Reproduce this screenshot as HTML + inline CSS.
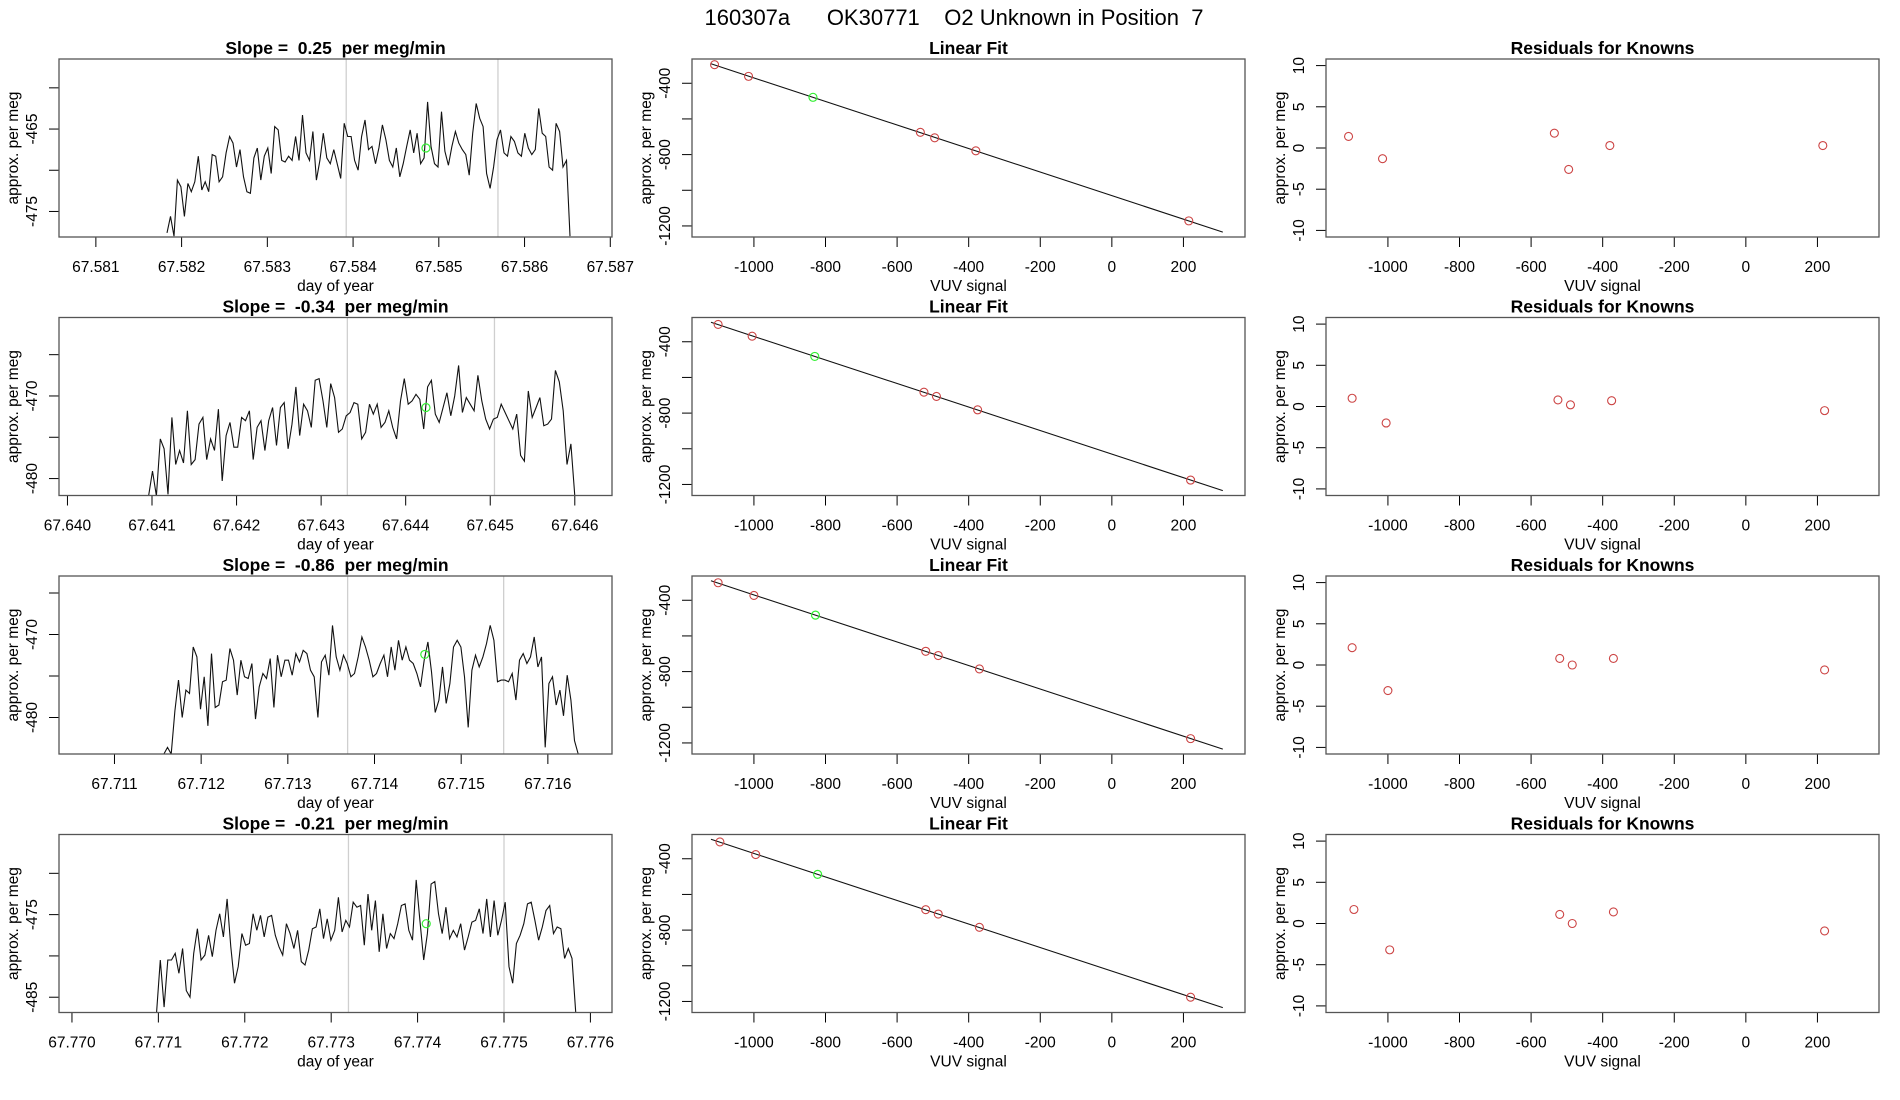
<!DOCTYPE html>
<html><head><meta charset="utf-8"><style>
html,body{margin:0;padding:0;background:#fff;}
svg{display:block;font-family:"Liberation Sans",sans-serif;}
svg text{white-space:pre;}
</style></head><body>
<svg id="chart" width="1900" height="1100" viewBox="0 0 1900 1100" xmlns="http://www.w3.org/2000/svg" xml:space="preserve">
<text x="954" y="25" font-size="22" text-anchor="middle">160307a      OK30771    O2 Unknown in Position  7</text>
</svg>
<script>
// ---- time series data (per row) ----
const slopeLabels = ["0.25", "-0.34", "-0.86", "-0.21"];
const seriesStart = [67.58183, 67.64096, 67.71157, 67.77098];
const seriesEnd = [67.58653, 67.64600, 67.71635, 67.77583];
const series1 = [-477.6,-475.6,-478.0,-471.2,-472.0,-475.6,-471.6,-472.6,-471.4,-468.3,-472.4,-471.4,-472.6,-468.1,-468.3,-471.4,-470.8,-467.9,-465.9,-466.7,-469.6,-467.5,-470.8,-472.6,-472.8,-468.5,-467.3,-471.2,-468.3,-467.3,-470.4,-464.7,-465.1,-468.8,-469.0,-468.3,-468.8,-465.9,-468.8,-463.3,-467.9,-468.8,-465.3,-471.2,-468.8,-465.5,-468.5,-469.2,-467.5,-469.2,-471.0,-464.3,-465.9,-465.9,-468.8,-470.0,-465.9,-463.9,-467.5,-467.1,-469.2,-467.3,-464.5,-466.3,-468.8,-469.6,-467.3,-470.8,-469.2,-467.1,-465.1,-467.9,-465.5,-469.2,-468.5,-461.7,-467.1,-469.2,-469.6,-462.9,-467.7,-469.4,-467.1,-465.3,-466.7,-467.5,-468.1,-470.6,-465.5,-461.9,-463.7,-464.7,-470.4,-472.2,-469.6,-466.3,-465.1,-467.9,-468.3,-465.9,-466.5,-467.9,-468.3,-465.5,-467.3,-468.1,-467.5,-462.5,-465.5,-465.9,-469.6,-470.0,-464.3,-465.3,-469.6,-468.8,-478.0];
const series2 = [-482.1,-479.1,-482.1,-475.2,-476.4,-481.9,-472.6,-478.3,-476.6,-478.1,-471.8,-478.3,-477.7,-473.4,-472.6,-477.7,-475.2,-476.6,-471.6,-480.3,-474.8,-473.2,-476.2,-476.2,-472.6,-473.0,-471.8,-477.7,-473.8,-473.0,-476.6,-473.0,-471.4,-476.0,-471.4,-470.8,-476.4,-473.4,-468.9,-474.8,-471.0,-471.8,-473.8,-468.1,-467.9,-470.6,-473.8,-468.5,-470.2,-474.4,-474.0,-472.4,-472.0,-470.8,-471.0,-475.2,-474.4,-471.0,-472.2,-471.0,-473.8,-473.2,-471.8,-473.8,-475.2,-470.6,-467.9,-471.0,-470.6,-469.8,-470.4,-474.0,-468.9,-468.1,-472.2,-473.2,-471.4,-469.6,-472.4,-470.0,-466.3,-472.0,-470.2,-471.0,-471.8,-467.5,-470.6,-472.8,-474.0,-472.8,-472.6,-471.0,-472.0,-473.0,-474.0,-472.2,-477.2,-477.9,-469.4,-472.6,-471.4,-470.2,-473.6,-473.4,-472.8,-466.9,-468.3,-471.8,-478.3,-475.8,-482.1];
const series3 = [-484.4,-483.6,-484.4,-479.2,-475.5,-480.0,-476.7,-477.1,-471.5,-472.7,-479.0,-475.1,-481.0,-472.3,-478.8,-478.5,-475.7,-475.5,-471.7,-473.1,-477.3,-473.1,-475.1,-475.3,-473.5,-480.2,-476.3,-474.7,-475.3,-472.9,-478.8,-472.5,-475.1,-473.1,-473.1,-474.9,-472.3,-473.3,-471.9,-472.3,-474.3,-475.1,-480.0,-473.3,-472.5,-474.9,-468.9,-472.7,-474.3,-472.5,-473.5,-475.1,-474.7,-472.7,-470.3,-471.5,-473.1,-475.1,-474.7,-473.5,-472.5,-475.1,-471.5,-474.3,-470.7,-473.1,-471.5,-473.1,-473.5,-474.7,-476.3,-473.1,-470.9,-474.5,-479.4,-477.9,-473.9,-478.3,-475.9,-471.5,-470.7,-471.5,-475.1,-481.2,-474.3,-472.5,-473.9,-472.7,-471.1,-468.9,-470.7,-475.7,-475.5,-475.5,-475.7,-474.7,-477.9,-473.1,-472.3,-473.5,-472.7,-470.3,-473.9,-472.7,-483.6,-475.9,-475.1,-478.5,-476.7,-479.8,-474.9,-477.9,-482.8,-484.4];
const series4 = [-486.8,-480.5,-486.2,-480.5,-480.5,-479.7,-482.1,-479.1,-484.2,-485.0,-479.7,-476.7,-480.5,-479.9,-477.5,-480.1,-476.9,-474.9,-477.7,-473.1,-478.9,-483.3,-481.3,-477.3,-478.7,-478.5,-474.9,-476.9,-475.1,-477.7,-475.3,-475.1,-477.5,-478.9,-479.9,-476.1,-477.3,-479.1,-476.9,-480.7,-481.1,-479.3,-476.7,-476.5,-474.3,-477.9,-475.5,-478.1,-476.9,-472.9,-477.1,-475.7,-476.5,-473.5,-474.1,-473.9,-478.7,-472.5,-476.9,-473.3,-479.5,-474.9,-479.1,-477.3,-477.9,-476.1,-473.9,-473.7,-476.9,-478.1,-470.8,-475.7,-480.5,-477.3,-471.3,-471.0,-474.9,-477.3,-474.1,-477.9,-476.9,-477.7,-476.1,-479.3,-477.7,-475.9,-475.7,-474.3,-477.3,-473.1,-477.7,-473.3,-477.5,-475.7,-473.5,-481.3,-483.3,-478.5,-477.5,-476.1,-473.7,-473.5,-475.7,-478.1,-476.5,-474.5,-473.9,-477.3,-476.5,-476.7,-480.3,-479.1,-480.3,-486.8];
const allSeries = [series1, series2, series3, series4];
const timeXmin = [67.58057, 67.63990, 67.71036, 67.76985];
const timeXmax = [67.58702, 67.64644, 67.71674, 67.77625];
const timeYmin = [-478.1, -482.05, -484.4, -486.85];
const timeYmax = [-456.5, -460.5, -462.95, -465.3];
const timeXTicks = [
  ["67.581","67.582","67.583","67.584","67.585","67.586","67.587"],
  ["67.640","67.641","67.642","67.643","67.644","67.645","67.646"],
  ["67.711","67.712","67.713","67.714","67.715","67.716"],
  ["67.770","67.771","67.772","67.773","67.774","67.775","67.776"]];
const timeYTicks = [[-460,-465,-470,-475],[-465,-470,-475,-480],[-465,-470,-475,-480],[-470,-475,-480,-485]];
const timeYLabeled = [[-465,-475],[-470,-480],[-470,-480],[-475,-485]];
const grayLines = [[67.58392,67.58569],[67.64331,67.64505],[67.71369,67.71549],[67.77320,67.77500]];
const greenX = [67.58485, 67.64424, 67.71458, 67.77410];
const greenY = [-467.3, -471.4, -472.4, -476.1];
// ---- fit data ----
const knownX = [
  [-1110,-1015,-535,-495,-380,215],
  [-1100,-1005,-525,-490,-375,220],
  [-1100,-1000,-520,-485,-370,220],
  [-1095,-995,-520,-485,-370,220]];
const residuals = [
  [1.4,-1.3,1.8,-2.6,0.3,0.3],
  [1.0,-2.0,0.8,0.2,0.7,-0.5],
  [2.1,-3.1,0.8,0.0,0.8,-0.6],
  [1.7,-3.2,1.1,0.0,1.4,-0.9]];
const unknownX = [-835, -830, -828, -822];
const fitIntercept = [-1030, -1030, -1030, -1030];
const fitSlope = [-0.66, -0.66, -0.66, -0.66];
const fitLineX = [-1120, 310];
const vuvTicks = [-1000,-800,-600,-400,-200,0,200];
const fitYTicks = [-400,-600,-800,-1000,-1200];
const fitYLabeled = [-400,-800,-1200];
const resYTicks = [10,5,0,-5,-10];
const vuvMin = -1173, vuvMax = 372;
const fitYmin = -1262, fitYmax = -264;
const resYmin = -10.8, resYmax = 10.8;

const NS = "http://www.w3.org/2000/svg";
const svg = document.getElementById("chart");
const colLeft = [59, 692, 1326];
const boxW = 553, boxH = 178;
const rowTop = [59, 317.5, 576, 834.5];

function mk(tag, attrs, parent) {
  const e = document.createElementNS(NS, tag);
  for (const k in attrs) e.setAttribute(k, attrs[k]);
  (parent || svg).appendChild(e);
  return e;
}
function scale(d0, d1, r0, r1) { return v => r0 + (v - d0) / (d1 - d0) * (r1 - r0); }

function frame(g, L, T, title, xlab, ylab) {
  const t = mk("text", {x: L + boxW/2, y: T - 5, "font-size": 17.5, "font-weight": "bold", "text-anchor": "middle"}, g);
  
  
  t.textContent = title;
  const b = mk("rect", {x: L, y: T, width: boxW, height: boxH, fill: "none", stroke: "#555", "stroke-width": 1.3}, g);
  
  
  const xl = mk("text", {x: L + boxW/2, y: T + boxH + 54, "font-size": 15.5, "text-anchor": "middle"}, g);
  
  
  xl.textContent = xlab;
  const yl = mk("text", {x: 0, y: 0, "font-size": 15.5, "text-anchor": "middle", transform: `translate(${L-41},${T+boxH/2}) rotate(-90)`}, g);
  
  
  yl.textContent = ylab;
}
function xAxis(g, L, T, vals, labels, sx) {
  const B = T + boxH;
  const xs = vals.map(sx);
  mk("line", {x1: Math.min(...xs), x2: Math.max(...xs), y1: B, y2: B, stroke: "#000"}, g);
  vals.forEach((v, i) => {
    const x = sx(v);
    const tk = mk("line", {x1: x, x2: x, y1: B, y2: B + 10, stroke: "#000"}, g);
    
    
    const tl = mk("text", {x: x, y: B + 35, "font-size": 15.5, "text-anchor": "middle"}, g);
    
    
    tl.textContent = labels[i];
  });
}
function yAxis(g, L, vals, labeled, sy) {
  const ys = vals.map(sy);
  mk("line", {x1: L, x2: L, y1: Math.min(...ys), y2: Math.max(...ys), stroke: "#000"}, g);
  vals.forEach(v => {
    const y = sy(v);
    const tk = mk("line", {x1: L - 10, x2: L, y1: y, y2: y, stroke: "#000"}, g);
    
    
    if (labeled.includes(v)) {
      const tl = mk("text", {x: 0, y: 0, "font-size": 15.5, "text-anchor": "middle", transform: `translate(${L-22},${y}) rotate(-90)`}, g);
      
      
      tl.textContent = String(v);
    }
  });
}
const defs = mk("defs", {});
for (let r = 0; r < 4; r++) {
  const T = rowTop[r];
  {
    const L = colLeft[0];
    const g = mk("g", {});
    
    
    const cp = mk("clipPath", {id: "clip" + r}, defs);
    mk("rect", {x: L, y: T, width: boxW, height: boxH}, cp);
    const sx = scale(timeXmin[r], timeXmax[r], L, L + boxW);
    const sy = scale(timeYmin[r], timeYmax[r], T + boxH, T);
    grayLines[r].forEach(v => {
      const gl = mk("line", {x1: sx(v), x2: sx(v), y1: T, y2: T + boxH, stroke: "#cfcfcf", "stroke-width": 1.3}, g);
      
      
    });
    const s = allSeries[r];
    const n = s.length;
    const pts = s.map((v, i) => {
      const xv = seriesStart[r] + (seriesEnd[r] - seriesStart[r]) * i / (n - 1);
      return sx(xv).toFixed(1) + "," + sy(v).toFixed(1);
    }).join(" ");
    const pl = mk("polyline", {points: pts, fill: "none", stroke: "#111", "stroke-width": 1.1, "clip-path": `url(#clip${r})`}, g);
    
    
    const gc = mk("circle", {cx: sx(greenX[r]), cy: sy(greenY[r]), r: 4, fill: "none", stroke: "#33ee33", "stroke-width": 1.2}, g);
    
    
    const tickVals = timeXTicks[r].map(Number);
    xAxis(g, L, T, tickVals, timeXTicks[r], sx);
    yAxis(g, L, timeYTicks[r], timeYLabeled[r], sy);
    frame(g, L, T, "Slope =  " + slopeLabels[r] + "  per meg/min", "day of year", "approx. per meg");
  }
  {
    const L = colLeft[1];
    const g = mk("g", {});
    
    
    const sx = scale(vuvMin, vuvMax, L, L + boxW);
    const sy = scale(fitYmin, fitYmax, T + boxH, T);
    const f = x => fitIntercept[r] + fitSlope[r] * x;
    const ln = mk("line", {x1: sx(fitLineX[0]), y1: sy(f(fitLineX[0])), x2: sx(fitLineX[1]), y2: sy(f(fitLineX[1])), stroke: "#111", "stroke-width": 1.1}, g);
    
    
    knownX[r].forEach((x, i) => {
      const c = mk("circle", {cx: sx(x), cy: sy(f(x) + residuals[r][i]), r: 4, fill: "none", stroke: "#cc4444", "stroke-width": 1.1}, g);
      
      
    });
    const u = mk("circle", {cx: sx(unknownX[r]), cy: sy(f(unknownX[r])), r: 4, fill: "none", stroke: "#33ee33", "stroke-width": 1.2}, g);
    
    
    xAxis(g, L, T, vuvTicks, vuvTicks.map(String), sx);
    yAxis(g, L, fitYTicks, fitYLabeled, sy);
    frame(g, L, T, "Linear Fit", "VUV signal", "approx. per meg");
  }
  {
    const L = colLeft[2];
    const g = mk("g", {});
    
    
    const sx = scale(vuvMin, vuvMax, L, L + boxW);
    const sy = scale(resYmin, resYmax, T + boxH, T);
    knownX[r].forEach((x, i) => {
      const c = mk("circle", {cx: sx(x), cy: sy(residuals[r][i]), r: 4, fill: "none", stroke: "#cc4444", "stroke-width": 1.1}, g);
      
      
    });
    xAxis(g, L, T, vuvTicks, vuvTicks.map(String), sx);
    yAxis(g, L, resYTicks, resYTicks, sy);
    frame(g, L, T, "Residuals for Knowns", "VUV signal", "approx. per meg");
  }
}
</script>
</body></html>
